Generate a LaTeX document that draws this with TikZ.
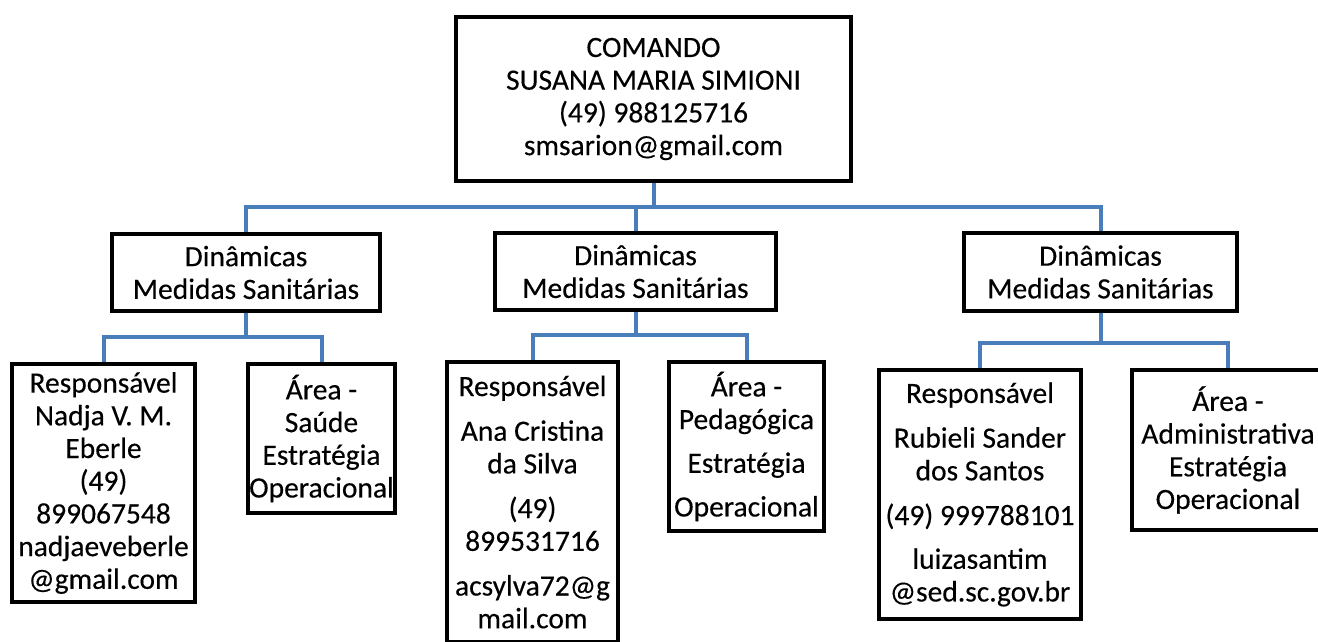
\documentclass[tikz,border=0pt]{standalone}
\usepackage{fontspec}
\setmainfont{Carlito}[FakeBold=0.3]
\usepackage{tikz}
\definecolor{linkblue}{RGB}{74,126,187}

\begin{document}
\begin{tikzpicture}[x=1pt,y=-1pt,
    box/.style={draw=black,line width=4pt,rectangle,align=center,inner sep=0pt,
      font=\fontsize{29.5}{32.7}\selectfont},
    conn/.style={draw=linkblue,line width=4pt}]
      \useasboundingbox (0,0) rectangle (1318,642);

      \node[box,minimum width=395,minimum height=164] (comando) at (653.5,99)
        {COMANDO\\SUSANA MARIA SIMIONI\\(49) 988125716\\smsarion@gmail.com};

      \node[box,minimum width=268,minimum height=77] (dinA) at (246,272.5)
        {Dinâmicas\\Medidas Sanitárias};
      \node[box,minimum width=281,minimum height=77] (dinB) at (635.5,271.5)
        {Dinâmicas\\Medidas Sanitárias};
      \node[box,minimum width=273,minimum height=78] (dinC) at (1100.5,272)
        {Dinâmicas\\Medidas Sanitárias};

      \node[box,minimum width=183,minimum height=238] (respA) at (103.5,483)
        {Responsável\\Nadja V. M.\\Eberle\\(49)\\899067548\\nadjaeveberle\\@gmail.com};
      \node[box,minimum width=147,minimum height=149] (areaA) at (321.5,438.5)
        {Área -\\Saúde\\Estratégia\\Operacional};
      \node[box,minimum width=171,minimum height=280] (respB) at (532.5,502)
        {Responsável\\[12pt]Ana Cristina\\da Silva\\[12pt](49)\\899531716\\[12pt]acsylva72@g\\mail.com};
      \node[box,minimum width=155,minimum height=169] (areaB) at (746.5,446.5)
        {Área -\\Pedagógica\\[11pt]Estratégia\\[11pt]Operacional};
      \node[box,minimum width=202,minimum height=249] (respC) at (980,494.5)
        {Responsável\\[12pt]Rubieli Sander\\dos Santos\\[12pt](49) 999788101\\[11pt]luizasantim\\@sed.sc.gov.br};
      \node[box,minimum width=192,minimum height=160] (areaC) at (1228,450)
        {Área -\\Administrativa\\Estratégia\\Operacional};

      \draw[conn] (comando.south) -- ++(0,24) -| (dinA.north);
      \draw[conn] (comando.south) -- ++(0,24) -| (dinB.north);
      \draw[conn] (comando.south) -- ++(0,24) -| (dinC.north);

      \draw[conn] (dinA.south) -- ++(0,24) -| (respA.north);
      \draw[conn] (dinA.south) -- ++(0,24) -| (areaA.north);
      \draw[conn] (dinB.south) -- ++(0,23) -| (respB.north);
      \draw[conn] (dinB.south) -- ++(0,23) -| (areaB.north);
      \draw[conn] (dinC.south) -- ++(0,30) -| (respC.north);
      \draw[conn] (dinC.south) -- ++(0,30) -| (areaC.north);
    \end{tikzpicture}
\end{document}
